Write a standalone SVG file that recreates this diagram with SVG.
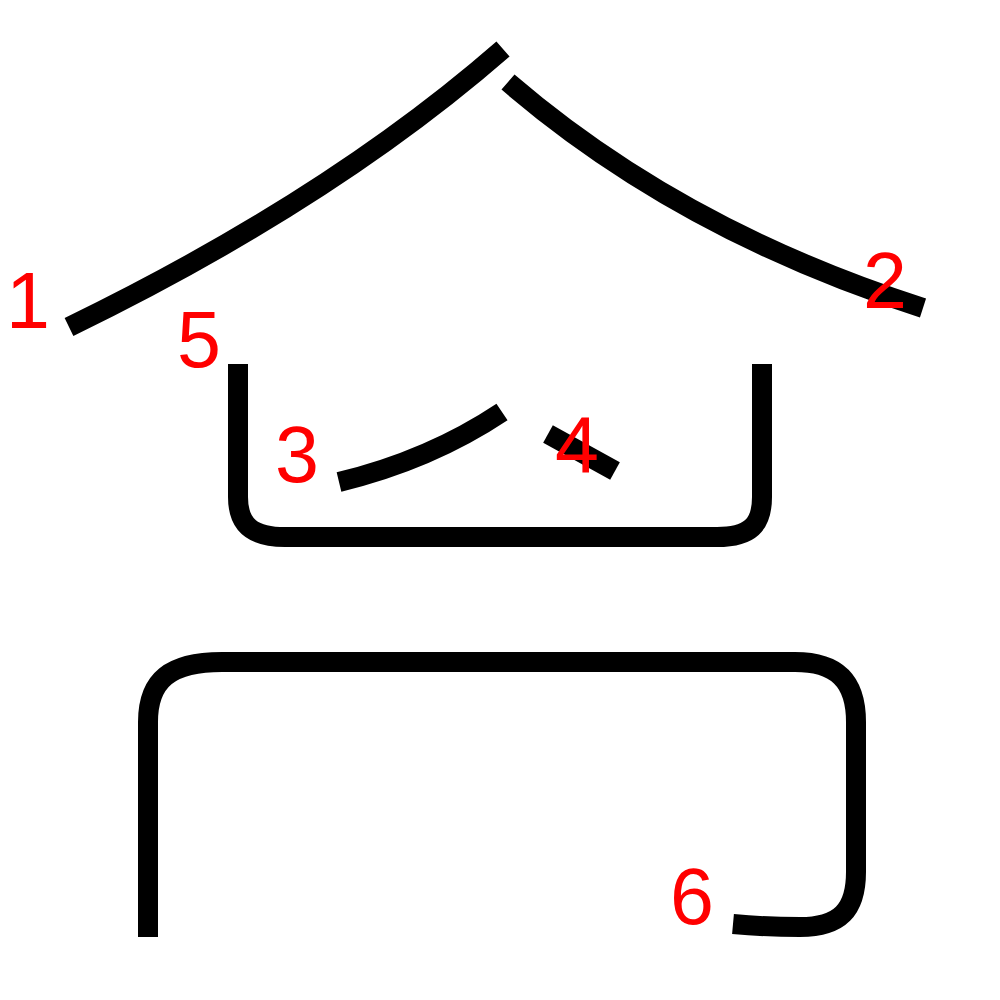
<svg xmlns="http://www.w3.org/2000/svg" width="1000" height="1000" viewBox="0 0 1000 1000">
<style>
.s{fill:none;stroke:#000;stroke-width:20;stroke-linecap:butt;stroke-linejoin:round}
.n{fill:#f00;font-family:"Liberation Sans",Arial,sans-serif;font-size:79px}
</style>
<rect width="1000" height="1000" fill="#fff"/>
<g id="strokes">
<path id="s1" class="s" d="M503,49 Q330,200 69,327"/>
<path id="s2" class="s" d="M508,82 Q680,230 923,308"/>
<path id="s3" class="s" d="M339,482 Q430,460 502,412"/>
<path id="s4" class="s" d="M548,434 L615,471"/>
<path id="s5" class="s" d="M238,364 V497 C238,525 252,537 285,537 H717 C750,537 762,525 762,497 V364"/>
<path id="s6" class="s" d="M148,937 V722 C148,680 170,662 222,662 H795 C836,662 856,680 856,722 V872 C856,910 840,927 800,927 C775,927 755,926 733,924"/>
</g>
<g id="labels">
<text class="n" x="6" y="328">1</text>
<text class="n" x="863" y="308">2</text>
<text class="n" x="275" y="482">3</text>
<text class="n" x="555" y="472">4</text>
<text class="n" x="177" y="367">5</text>
<text class="n" x="670" y="924">6</text>
</g>
</svg>
